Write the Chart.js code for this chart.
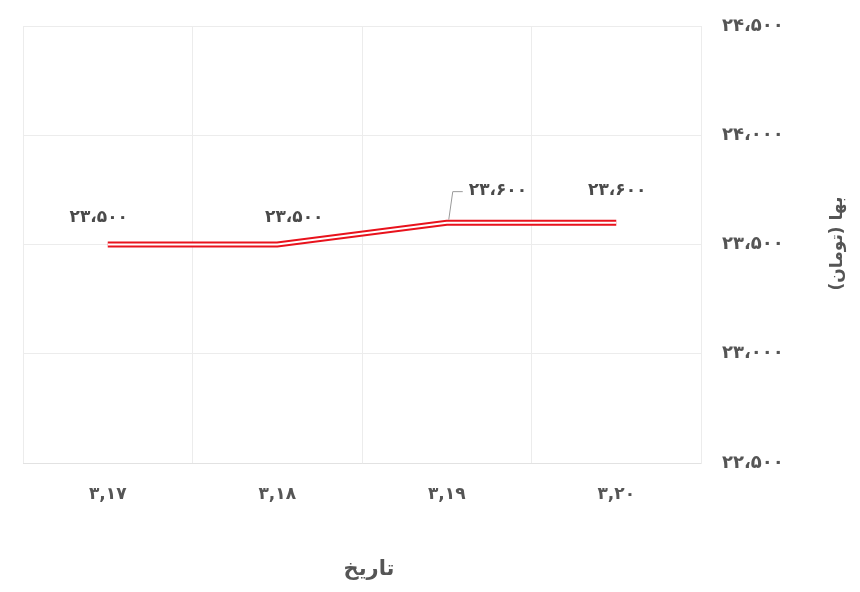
<!DOCTYPE html>
<html>
<head>
<meta charset="utf-8">
<script src="https://cdn.jsdelivr.net/npm/chart.js@4/dist/chart.umd.min.js"></script>
<style>
html,body{margin:0;padding:0;background:#fff;}
#wrap{width:860px;height:592px;}
</style>
</head>
<body>
<div id="wrap"><canvas id="c" width="860" height="592"></canvas></div>
<script>
const categories = ['۳,۱۷', '۳,۱۸', '۳,۱۹', '۳,۲۰'];
const prices = [23500, 23500, 23600, 23600];
const yTicks = [22500, 23000, 23500, 24000, 24500];
const xTitle = 'تاریخ';
const yTitle = 'بها (تومان)';

const labelDx = [-9, 17, 51, 1];
const labelDy = [-27, -27, -32, -32];
const leaderIndex = 2;

const FONT = "'DejaVu Sans', sans-serif";
const TEXT = '#555555';

function fa(n){
  const s = Math.round(n).toString().replace(/\B(?=(\d{3})+(?!\d))/g, '،');
  return s.replace(/\d/g, d => '۰۱۲۳۴۵۶۷۸۹'[+d]);
}

const extras = {
  id: 'extras',
  afterDatasetsDraw(chart){
    const ctx = chart.ctx;
    const meta = chart.getDatasetMeta(0);
    ctx.save();
    ctx.font = "bold 17px " + FONT;
    ctx.fillStyle = '#4a4a4a';
    ctx.textBaseline = 'middle';
    meta.data.forEach((pt, i) => {
      const x = pt.x + labelDx[i];
      const y = pt.y + labelDy[i];
      const txt = fa(prices[i]);
      if (i === leaderIndex) {
        ctx.strokeStyle = '#9a9a9a';
        ctx.lineWidth = 1;
        ctx.beginPath();
        ctx.moveTo(pt.x + 2, pt.y - 3);
        ctx.lineTo(pt.x + 6, y + 1);
        ctx.lineTo(pt.x + 16, y + 1);
        ctx.stroke();
        ctx.textAlign = 'left';
        ctx.fillText(txt, pt.x + 22, y);
      } else {
        ctx.textAlign = 'center';
        ctx.fillText(txt, x, y);
      }
    });
    ctx.restore();
  },
  afterDraw(chart){
    const ctx = chart.ctx;
    const a = chart.chartArea;
    ctx.save();
    ctx.fillStyle = TEXT;
    ctx.font = "bold 21px " + FONT;
    ctx.textAlign = 'center';
    ctx.textBaseline = 'middle';
    ctx.fillText(xTitle, (a.left + a.right) / 2 + 7, 570);
    ctx.translate(838, (a.top + a.bottom) / 2 - 1);
    ctx.rotate(-Math.PI / 2);
    ctx.font = "bold 17px " + FONT;
    ctx.fillText(yTitle, 0, 0);
    ctx.restore();
  }
};

new Chart(document.getElementById('c'), {
  type: 'line',
  data: {
    labels: categories,
    datasets: [
      { data: prices, borderColor: '#ffffff', borderWidth: 2, pointRadius: 0, tension: 0, order: 0, fill: false },
      { data: prices, borderColor: '#e8121c', borderWidth: 6, pointRadius: 0, tension: 0, order: 1, fill: false }
    ]
  },
  options: {
    responsive: false,
    animation: false,
    devicePixelRatio: 1,
    layout: { padding: { left: 23, top: 26, right: 0, bottom: 0 } },
    plugins: { legend: { display: false }, tooltip: { enabled: false } },
    scales: {
      x: {
        offset: true,
        grid: { offset: true, color: '#ececec', drawTicks: false },
        border: { color: '#e2e2e2' },
        ticks: { padding: 21, color: TEXT, font: { family: FONT, size: 17, weight: 'bold' } },
        afterFit(s){ s.height = 129; s.paddingLeft = 0; s.paddingRight = 0; }
      },
      y: {
        position: 'right',
        min: yTicks[0],
        max: yTicks[yTicks.length - 1],
        afterBuildTicks(s){ s.ticks = yTicks.map(v => ({ value: v })); },
        grid: { color: '#ececec', drawTicks: false },
        border: { color: '#ececec' },
        ticks: { padding: 21, color: TEXT, font: { family: FONT, size: 18, weight: 'bold' }, callback: v => fa(v) },
        afterFit(s){ s.width = 159; s.paddingTop = 0; s.paddingBottom = 0; }
      }
    }
  },
  plugins: [extras]
});
</script>
</body>
</html>
